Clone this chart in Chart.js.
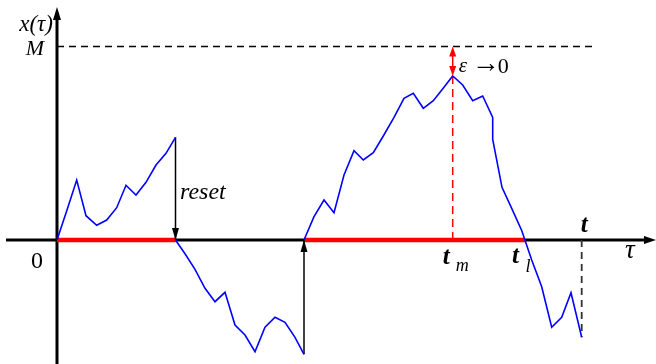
<!DOCTYPE html>
<html>
<head>
<meta charset="utf-8">
<script src="https://cdn.jsdelivr.net/npm/chart.js@4.4.0/dist/chart.umd.min.js"></script>
<style>
  html, body { margin: 0; padding: 0; background: #fff; }
  #wrap { position: relative; width: 656px; height: 364px; }
</style>
</head>
<body>
<div id="wrap"><canvas id="myChart"></canvas></div>
<script>
// walk up to the first reset
const tau1 = [0, 1, 1.97, 2.9, 3.97, 4.97, 5.97, 6.9, 7.9, 8.9, 9.9, 10.9, 11.85];
const x1 = [0, 3.0, 6.0, 2.43, 1.47, 2.0, 3.23, 5.47, 4.5, 5.77, 7.5, 8.67, 10.27];
// negative excursion until the walk is pushed back to zero
const tau2 = [11.85, 12.85, 13.8, 14.8, 15.8, 16.8, 17.8, 18.8, 19.8, 20.8, 21.8, 22.8, 23.8, 24.7];
const x2 = [0, -1.45, -2.93, -4.83, -6.17, -5.23, -8.5, -9.5, -11.17, -8.73, -7.73, -8.23, -9.73, -11.43];
// last stretch, through the maximum and on to t
const tau3 = [24.7, 25.7, 26.7, 27.7, 28.7, 29.7, 30.63, 31.63, 32.63, 33.7, 34.7, 35.63, 36.63, 37.63, 38.6,
  39.57, 40.57, 41.57, 42.57, 43.57, 43.57, 44.5, 45.47, 46.47, 47.47, 48.47, 49.47, 50.47, 51.4, 52.47];
const x3 = [0, 2.33, 4.0, 2.73, 6.5, 8.93, 8.0, 8.73, 10.4, 12.27, 14.17, 14.67, 13.17, 13.93, 15.15,
  16.4, 15.5, 13.93, 14.4, 12.25, 10.07, 5.27, 3.17, 0.95, -2.0, -4.67, -8.73, -7.73, -5.27, -9.73];

const M = 19.35;       // level of the maximum bound
const tReset = 11.85;  // first reset
const tReturn = 24.7;  // second reset (pushed up)
const tM = 39.57;      // time of the maximum
const xPeak = 16.4;
const tL = 46.8;       // last zero crossing
const tEnd = 52.47;
const xEnd = -9.73;

const labelFamily = '"Liberation Serif"';

function pts(ts, xs) {
  return ts.map((t, i) => ({ x: t, y: xs[i] }));
}

function seg(data, color, width, dash, order) {
  return {
    data: data,
    borderColor: color,
    borderWidth: width,
    borderDash: dash || [],
    pointRadius: 0,
    tension: 0,
    fill: false,
    order: order
  };
}

function arrowHead(ctx, x, y, dir, len, half, color) {
  ctx.save();
  ctx.fillStyle = color;
  ctx.beginPath();
  ctx.moveTo(x, y);
  if (dir === 'up') { ctx.lineTo(x - half, y + len); ctx.lineTo(x + half, y + len); }
  if (dir === 'down') { ctx.lineTo(x - half, y - len); ctx.lineTo(x + half, y - len); }
  if (dir === 'right') { ctx.lineTo(x - len, y - half); ctx.lineTo(x - len, y + half); }
  ctx.closePath();
  ctx.fill();
  ctx.restore();
}

function label(ctx, str, x, y, style, size, align) {
  ctx.font = (style ? style + ' ' : '') + size + 'px ' + labelFamily;
  ctx.textAlign = align || 'left';
  ctx.fillText(str, x, y);
}

const axesPlugin = {
  id: 'axes',
  beforeDatasetsDraw(chart) {
    const ctx = chart.ctx;
    const sx = chart.scales.x, sy = chart.scales.y;
    const x0 = sx.getPixelForValue(0), y0 = sy.getPixelForValue(0);
    ctx.save();
    ctx.strokeStyle = '#000';
    ctx.lineWidth = 3;
    ctx.beginPath();
    ctx.moveTo(sx.getPixelForValue(-5.1), y0);
    ctx.lineTo(sx.getPixelForValue(58.8), y0);
    ctx.moveTo(x0, chart.height);
    ctx.lineTo(x0, sy.getPixelForValue(22.2));
    ctx.stroke();
    ctx.restore();
    arrowHead(ctx, sx.getPixelForValue(59.9), y0, 'right', 12, 4, '#000');
    arrowHead(ctx, x0, sy.getPixelForValue(23.3), 'up', 13, 4, '#000');
  },
  afterDatasetsDraw(chart) {
    const ctx = chart.ctx;
    const sx = chart.scales.x, sy = chart.scales.y;
    const px = v => sx.getPixelForValue(v), py = v => sy.getPixelForValue(v);
    const y0 = py(0);

    // arrowheads of the two resets and of the epsilon gap
    arrowHead(ctx, px(tReset), y0, 'down', 12, 3.5, '#000');
    arrowHead(ctx, px(tReturn), y0, 'up', 12, 3.5, '#000');
    arrowHead(ctx, px(tM), py(M), 'up', 10, 3.5, '#ff0000');
    arrowHead(ctx, px(tM), py(xPeak), 'down', 10, 3.5, '#ff0000');

    ctx.save();
    ctx.fillStyle = '#000';
    ctx.textBaseline = 'alphabetic';
    label(ctx, 'x(τ)', 53, 31, 'italic', 23, 'right');
    label(ctx, 'M', 44, 55, 'italic', 22, 'right');
    label(ctx, '0', 43, 268, '', 24, 'right');
    label(ctx, 'reset', 180, 199, 'italic', 24);
    label(ctx, 'ε', px(tM) + 6, 72, 'italic', 21);
    label(ctx, '→', px(tM) + 19, 72, '', 28);
    label(ctx, '0', px(tM) + 45, 73, '', 22);
    label(ctx, 't', px(tM) - 10, 264, 'bold italic', 25);
    label(ctx, 'm', px(tM) + 3, 271, 'italic', 18);
    label(ctx, 't', px(tL) - 13, 263, 'bold italic', 25);
    label(ctx, 'l', px(tL) + 0.5, 272, 'italic', 18);
    label(ctx, 't', px(tEnd) - 1, 232, 'bold italic', 25);
    label(ctx, 'τ', 625, 258, 'italic', 27);
    ctx.restore();
  }
};

new Chart(document.getElementById('myChart'), {
  type: 'line',
  data: {
    datasets: [
      seg(pts(tau1, x1), '#0000ff', 1.6, null, 1),
      seg(pts(tau2, x2), '#0000ff', 1.6, null, 1),
      seg(pts(tau3, x3), '#0000ff', 1.6, null, 1),
      // time spent at zero
      seg(pts([0, tReset], [0, 0]), '#ff0000', 4.5, null, 3),
      seg(pts([tReturn, tL], [0, 0]), '#ff0000', 4.5, null, 3),
      // reset jumps
      seg(pts([tReset, tReset], [x1[x1.length - 1], 0]), '#000', 1.5, null, 2),
      seg(pts([tReturn, tReturn], [x2[x2.length - 1], 0]), '#000', 1.5, null, 2),
      // bound M and the markers at t_m and t
      seg(pts([0, 53.8], [M, M]), '#000', 1.5, [7, 5], 2),
      seg(pts([tM, tM], [0, xPeak]), '#ff0000', 1.5, [8, 5], 2),
      seg(pts([tM, tM], [M - 0.6, xPeak + 0.6]), '#ff0000', 1.5, null, 2),
      seg(pts([tEnd, tEnd], [0, xEnd]), '#333', 1.8, [7, 5], 2)
    ]
  },
  options: {
    responsive: true,
    maintainAspectRatio: false,
    animation: false,
    layout: { padding: 0 },
    plugins: {
      legend: { display: false },
      tooltip: { enabled: false }
    },
    scales: {
      x: { type: 'linear', min: -5.7, max: 59.9, display: false },
      y: { type: 'linear', min: -12.4, max: 24.0, display: false }
    }
  },
  plugins: [axesPlugin]
});
</script>
</body>
</html>
